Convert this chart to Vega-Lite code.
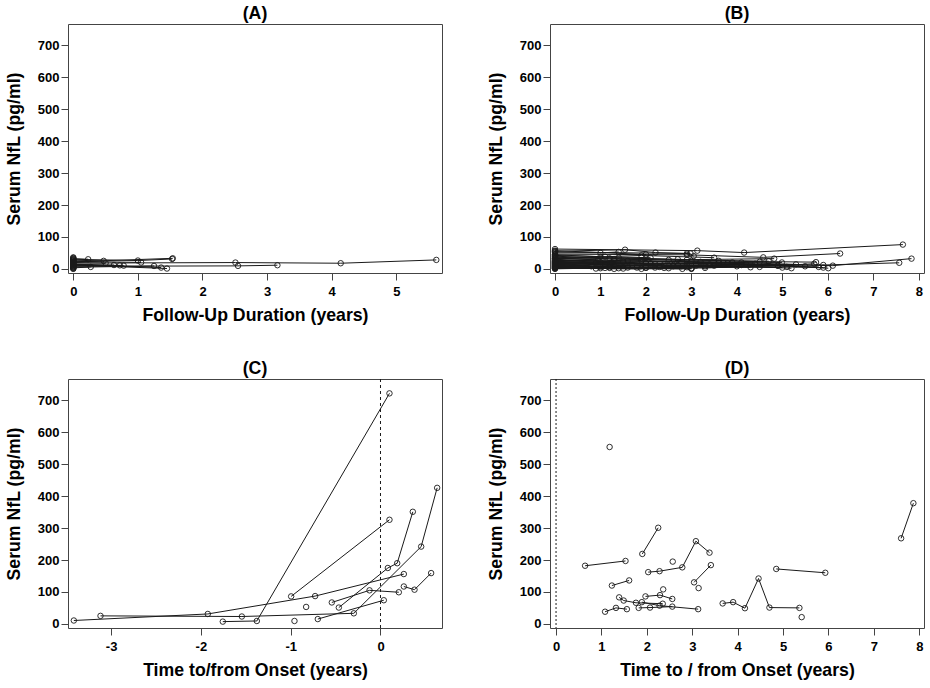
{
"$schema": "https://vega.github.io/schema/vega-lite/v6.json",
"padding": {"left": 4, "top": 4, "right": 4, "bottom": 5},
"columns": 2,
"spacing": {"column": 43, "row": 34},
"config": {
 "font": "Liberation Sans",
 "view": {"stroke": "#444", "strokeWidth": 1},
 "axis": {"grid": false, "domain": false, "tickColor": "#444", "tickSize": 7, "labelFont": "Liberation Sans", "labelFontWeight": "bold", "labelFontSize": 13, "labelColor": "#000", "labelOverlap": false, "labelExpr": "toString(datum.value)", "titleFont": "Liberation Sans", "titleFontWeight": "bold", "titleFontSize": 17.7, "titleColor": "#000"},
 "axisX": {"labelPadding": 5, "titlePadding": 8},
 "axisY": {"labelPadding": 2, "titlePadding": 14},
 "title": {"fontSize": 17.7, "fontWeight": "bold", "offset": 1, "color": "#000", "anchor": "middle", "font": "Liberation Sans"}
},
"datasets": {
 "A": [
  {"id":"a1","x":0,"y":22},{"id":"a1","x":1.54,"y":33},
  {"id":"a2","x":0,"y":30},{"id":"a2","x":1.0,"y":26},{"id":"a2","x":1.53,"y":31},
  {"id":"a3","x":0,"y":18},{"id":"a3","x":2.51,"y":19.7},{"id":"a3","x":4.14,"y":17.6},{"id":"a3","x":5.62,"y":28},
  {"id":"a4","x":0,"y":8},{"id":"a4","x":2.55,"y":9.3},{"id":"a4","x":3.16,"y":11.4},
  {"id":"a5","x":0,"y":12},{"id":"a5","x":1.45,"y":1},
  {"id":"a6","x":0,"y":15},{"id":"a6","x":1.36,"y":4},
  {"id":"a7","x":0,"y":5},{"id":"a7","x":1.25,"y":9},
  {"id":"a8","x":0,"y":24},{"id":"a8","x":1.05,"y":20},
  {"id":"a9","x":0,"y":14},{"id":"a9","x":0.78,"y":10},
  {"id":"a10","x":0,"y":11},{"id":"a10","x":0.63,"y":12},
  {"id":"a11","x":0,"y":27},{"id":"a11","x":0.47,"y":25},
  {"id":"a12","x":0,"y":32},{"id":"a12","x":0.23,"y":30},
  {"id":"a13","x":0,"y":3},{"id":"a13","x":0.27,"y":6},
  {"id":"a14","x":0,"y":20},{"id":"a14","x":0.5,"y":18},
  {"id":"a15","x":0,"y":9},{"id":"a15","x":0.72,"y":11},
  {"id":"a16","x":0,"y":0},{"id":"a17","x":0,"y":1},{"id":"a18","x":0,"y":4},{"id":"a19","x":0,"y":7},
  {"id":"a20","x":0,"y":13},{"id":"a21","x":0,"y":17},{"id":"a22","x":0,"y":21},{"id":"a23","x":0,"y":26},
  {"id":"a24","x":0,"y":29},{"id":"a25","x":0,"y":34},{"id":"a26","x":0,"y":36}
 ],
 "B": [
  {"id":"b1","x":0,"y":62},{"id":"b1","x":3.13,"y":57},{"id":"b1","x":4.16,"y":51},{"id":"b1","x":7.65,"y":76},
  {"id":"b2","x":0,"y":55},{"id":"b2","x":1.54,"y":60},{"id":"b2","x":2.21,"y":51},{"id":"b2","x":2.98,"y":48},
  {"id":"b3","x":0,"y":50},{"id":"b3","x":1.0,"y":50},{"id":"b3","x":1.4,"y":53},
  {"id":"b4","x":0,"y":46},{"id":"b4","x":2.9,"y":44},{"id":"b4","x":4.58,"y":36},{"id":"b4","x":6.27,"y":48},
  {"id":"b5","x":0,"y":42},{"id":"b5","x":1.1,"y":38},{"id":"b5","x":1.9,"y":42},{"id":"b5","x":3.5,"y":35},
  {"id":"b6","x":0,"y":40},{"id":"b6","x":1.3,"y":30},{"id":"b6","x":2.5,"y":28},{"id":"b6","x":4.82,"y":32},
  {"id":"b7","x":0,"y":36},{"id":"b7","x":1.2,"y":33},{"id":"b7","x":3.0,"y":25},{"id":"b7","x":5.74,"y":21},
  {"id":"b8","x":0,"y":33},{"id":"b8","x":1.6,"y":25},{"id":"b8","x":3.2,"y":22},{"id":"b8","x":6.01,"y":2},
  {"id":"b9","x":0,"y":30},{"id":"b9","x":2.0,"y":18},{"id":"b9","x":4.2,"y":15},{"id":"b9","x":6.11,"y":10},{"id":"b9","x":7.84,"y":32},
  {"id":"b10","x":0,"y":28},{"id":"b10","x":1.0,"y":20},{"id":"b10","x":3.4,"y":14},{"id":"b10","x":5.9,"y":12},{"id":"b10","x":7.57,"y":19},
  {"id":"b11","x":0,"y":26},{"id":"b11","x":1.5,"y":22},{"id":"b11","x":4.99,"y":20},
  {"id":"b12","x":0,"y":24},{"id":"b12","x":0.9,"y":18},{"id":"b12","x":2.2,"y":15},
  {"id":"b13","x":0,"y":22},{"id":"b13","x":1.3,"y":10},{"id":"b13","x":2.7,"y":12},{"id":"b13","x":4.3,"y":5},
  {"id":"b14","x":0,"y":20},{"id":"b14","x":2.1,"y":16},{"id":"b14","x":3.8,"y":18},{"id":"b14","x":5.5,"y":8},
  {"id":"b15","x":0,"y":18},{"id":"b15","x":1.2,"y":5},{"id":"b15","x":2.4,"y":3},
  {"id":"b16","x":0,"y":17},{"id":"b16","x":1.7,"y":12},{"id":"b16","x":3.1,"y":10},{"id":"b16","x":4.4,"y":16},
  {"id":"b17","x":0,"y":15},{"id":"b17","x":0.8,"y":8},{"id":"b17","x":2.0,"y":3},
  {"id":"b18","x":0,"y":14},{"id":"b18","x":1.4,"y":2},{"id":"b18","x":3.0,"y":2},
  {"id":"b19","x":0,"y":12},{"id":"b19","x":1.1,"y":14},{"id":"b19","x":2.6,"y":8},{"id":"b19","x":5.0,"y":4},
  {"id":"b20","x":0,"y":11},{"id":"b20","x":1.8,"y":4},{"id":"b20","x":2.8,"y":0},
  {"id":"b21","x":0,"y":10},{"id":"b21","x":1.0,"y":2},{"id":"b21","x":1.9,"y":0},
  {"id":"b22","x":0,"y":9},{"id":"b22","x":2.3,"y":6},{"id":"b22","x":4.1,"y":12},{"id":"b22","x":5.8,"y":6},
  {"id":"b23","x":0,"y":8},{"id":"b23","x":1.3,"y":0},{"id":"b23","x":3.0,"y":1},
  {"id":"b24","x":0,"y":7},{"id":"b24","x":1.6,"y":4},{"id":"b24","x":3.5,"y":10},
  {"id":"b25","x":0,"y":6},{"id":"b25","x":0.9,"y":1},{"id":"b25","x":2.0,"y":4},
  {"id":"b26","x":0,"y":5},{"id":"b26","x":2.5,"y":2},{"id":"b26","x":4.5,"y":6},{"id":"b26","x":5.2,"y":2},
  {"id":"b27","x":0,"y":4},{"id":"b27","x":1.2,"y":3},{"id":"b27","x":2.9,"y":5},
  {"id":"b28","x":0,"y":3},{"id":"b28","x":1.0,"y":6},{"id":"b28","x":3.3,"y":3},{"id":"b28","x":4.9,"y":10},
  {"id":"b29","x":0,"y":2},{"id":"b29","x":1.5,"y":1},{"id":"b29","x":3.0,"y":0},
  {"id":"b30","x":0,"y":1},{"id":"b30","x":2.2,"y":4},{"id":"b30","x":4.0,"y":8},
  {"id":"b31","x":0,"y":0},{"id":"b31","x":1.1,"y":3},
  {"id":"b32","x":0,"y":44},{"id":"b32","x":1.0,"y":38},{"id":"b32","x":2.1,"y":35},
  {"id":"b33","x":0,"y":38},{"id":"b33","x":2.7,"y":30},{"id":"b33","x":3.6,"y":25},
  {"id":"b34","x":0,"y":32},{"id":"b34","x":1.4,"y":35},{"id":"b34","x":2.9,"y":28},{"id":"b34","x":4.7,"y":24},
  {"id":"b35","x":0,"y":27},{"id":"b35","x":3.9,"y":20},{"id":"b35","x":5.3,"y":14},
  {"id":"b36","x":0,"y":23},{"id":"b36","x":1.9,"y":26},{"id":"b36","x":3.6,"y":18},{"id":"b36","x":4.1,"y":20},
  {"id":"b37","x":0,"y":19},{"id":"b37","x":2.6,"y":12},{"id":"b37","x":4.9,"y":10},{"id":"b37","x":5.7,"y":16},
  {"id":"b38","x":0,"y":13},{"id":"b38","x":3.3,"y":8},{"id":"b38","x":5.1,"y":6},{"id":"b38","x":5.9,"y":4},
  {"id":"b39","x":0,"y":16},{"id":"b39","x":1.25,"y":20},{"id":"b39","x":2.4,"y":14},
  {"id":"b40","x":0,"y":21},{"id":"b40","x":2.9,"y":15},{"id":"b40","x":4.5,"y":22},
  {"id":"b41","x":0,"y":34},{"id":"b41","x":0.95,"y":28},
  {"id":"b42","x":0,"y":57},{"id":"b42","x":2.0,"y":45},
  {"id":"b43","x":0,"y":53},{"id":"b43","x":2.9,"y":48},{"id":"b43","x":3.05,"y":40}
 ],
 "C": [
  {"id":"c1","x":-3.415,"y":10.5},{"id":"c1","x":-1.923,"y":31},{"id":"c1","x":-0.728,"y":87},{"id":"c1","x":0.26,"y":156},
  {"id":"c2","x":-3.118,"y":25},{"id":"c2","x":-1.544,"y":23},{"id":"c2","x":-0.297,"y":33},{"id":"c2","x":0.453,"y":242},{"id":"c2","x":0.631,"y":426},
  {"id":"c3","x":-1.756,"y":7},{"id":"c3","x":-1.377,"y":9},{"id":"c3","x":0.1,"y":722},
  {"id":"c4","x":-0.995,"y":86},{"id":"c4","x":0.1,"y":326},
  {"id":"c5","x":-0.958,"y":9},
  {"id":"c6","x":-0.828,"y":53},
  {"id":"c7","x":-0.698,"y":15},{"id":"c7","x":0.037,"y":74},
  {"id":"c8","x":-0.542,"y":67},{"id":"c8","x":-0.122,"y":105},{"id":"c8","x":0.204,"y":99},
  {"id":"c9","x":-0.464,"y":51},{"id":"c9","x":0.082,"y":175},{"id":"c9","x":0.186,"y":190},{"id":"c9","x":0.36,"y":351},
  {"id":"c10","x":0.26,"y":117},{"id":"c10","x":0.379,"y":107},{"id":"c10","x":0.564,"y":159}
 ],
 "D": [
  {"id":"d1","x":0.64,"y":182},{"id":"d1","x":1.53,"y":197},
  {"id":"d2","x":1.18,"y":554},
  {"id":"d3","x":1.23,"y":120},{"id":"d3","x":1.61,"y":136},
  {"id":"d4","x":1.08,"y":38},{"id":"d4","x":1.32,"y":50},{"id":"d4","x":1.56,"y":46},
  {"id":"d5","x":1.39,"y":83},{"id":"d5","x":1.49,"y":73},{"id":"d5","x":1.76,"y":66},{"id":"d5","x":2.35,"y":63},
  {"id":"d6","x":1.82,"y":50},{"id":"d6","x":2.07,"y":51},{"id":"d6","x":2.56,"y":54},
  {"id":"d7","x":1.89,"y":68},{"id":"d7","x":2.28,"y":57},{"id":"d7","x":3.13,"y":46},
  {"id":"d8","x":1.97,"y":86},{"id":"d8","x":2.29,"y":90},{"id":"d8","x":2.56,"y":78},
  {"id":"d9","x":2.36,"y":108},
  {"id":"d10","x":1.9,"y":219},{"id":"d10","x":2.25,"y":301},
  {"id":"d11","x":2.03,"y":162},{"id":"d11","x":2.28,"y":165},{"id":"d11","x":2.78,"y":177},{"id":"d11","x":3.08,"y":259},{"id":"d11","x":3.38,"y":223},
  {"id":"d12","x":2.57,"y":195},
  {"id":"d13","x":3.04,"y":130},{"id":"d13","x":3.41,"y":184},
  {"id":"d14","x":3.14,"y":112},
  {"id":"d15","x":3.67,"y":64},{"id":"d15","x":3.9,"y":68},{"id":"d15","x":4.16,"y":49},{"id":"d15","x":4.46,"y":142},{"id":"d15","x":4.7,"y":51},{"id":"d15","x":5.36,"y":50},
  {"id":"d16","x":5.41,"y":21},
  {"id":"d17","x":4.85,"y":172},{"id":"d17","x":5.93,"y":160},
  {"id":"d18","x":7.6,"y":268},{"id":"d18","x":7.87,"y":378}
 ]
},
"concat": [
 {
  "width": 374, "height": 249, "title": "(A)", "data": {"name": "A"},
  "layer": [
   {"mark": {"type": "line", "color": "#1a1a1a", "strokeWidth": 1},
    "encoding": {
     "x": {"field": "x", "type": "quantitative", "scale": {"domain": [-0.082, 5.708], "nice": false, "zero": false}, "axis": {"values": [0,1,2,3,4,5], "title": "Follow-Up Duration (years)"}},
     "y": {"field": "y", "type": "quantitative", "scale": {"domain": [-13, 767], "nice": false, "zero": false}, "axis": {"values": [0,100,200,300,400,500,600,700], "title": "Serum NfL (pg/ml)"}},
     "detail": {"field": "id"}}},
   {"mark": {"type": "point", "shape": "circle", "filled": false, "color": "#1a1a1a", "size": 30, "strokeWidth": 0.9, "opacity": 1},
    "encoding": {
     "x": {"field": "x", "type": "quantitative", "axis": {"values": [0,1,2,3,4,5], "title": "Follow-Up Duration (years)"}},
     "y": {"field": "y", "type": "quantitative", "axis": {"values": [0,100,200,300,400,500,600,700], "title": "Serum NfL (pg/ml)"}}}}
  ]
 },
 {
  "width": 374, "height": 249, "title": "(B)", "data": {"name": "B"},
  "layer": [
   {"mark": {"type": "line", "color": "#1a1a1a", "strokeWidth": 1},
    "encoding": {
     "x": {"field": "x", "type": "quantitative", "scale": {"domain": [-0.11, 8.115], "nice": false, "zero": false}, "axis": {"values": [0,1,2,3,4,5,6,7,8], "title": "Follow-Up Duration (years)"}},
     "y": {"field": "y", "type": "quantitative", "scale": {"domain": [-13, 767], "nice": false, "zero": false}, "axis": {"values": [0,100,200,300,400,500,600,700], "title": "Serum NfL (pg/ml)"}},
     "detail": {"field": "id"}}},
   {"mark": {"type": "point", "shape": "circle", "filled": false, "color": "#1a1a1a", "size": 30, "strokeWidth": 0.9, "opacity": 1},
    "encoding": {
     "x": {"field": "x", "type": "quantitative", "axis": {"values": [0,1,2,3,4,5,6,7,8], "title": "Follow-Up Duration (years)"}},
     "y": {"field": "y", "type": "quantitative", "axis": {"values": [0,100,200,300,400,500,600,700], "title": "Serum NfL (pg/ml)"}}}}
  ]
 },
 {
  "width": 374, "height": 249, "title": "(C)", "data": {"name": "C"},
  "layer": [
   {"mark": {"type": "line", "color": "#1a1a1a", "strokeWidth": 1},
    "encoding": {
     "x": {"field": "x", "type": "quantitative", "scale": {"domain": [-3.48, 0.685], "nice": false, "zero": false}, "axis": {"values": [-3,-2,-1,0], "title": "Time to/from Onset (years)"}},
     "y": {"field": "y", "type": "quantitative", "scale": {"domain": [-13, 767], "nice": false, "zero": false}, "axis": {"values": [0,100,200,300,400,500,600,700], "title": "Serum NfL (pg/ml)"}},
     "detail": {"field": "id"}}},
   {"mark": {"type": "point", "shape": "circle", "filled": false, "color": "#1a1a1a", "size": 30, "strokeWidth": 0.9, "opacity": 1},
    "encoding": {
     "x": {"field": "x", "type": "quantitative", "axis": {"values": [-3,-2,-1,0], "title": "Time to/from Onset (years)"}},
     "y": {"field": "y", "type": "quantitative", "axis": {"values": [0,100,200,300,400,500,600,700], "title": "Serum NfL (pg/ml)"}}}},
   {"data": {"values": [{"x": 0}]},
    "mark": {"type": "rule", "color": "#1a1a1a", "strokeWidth": 1, "strokeDash": [3, 3]},
    "encoding": {"x": {"field": "x", "type": "quantitative", "axis": {"values": [-3,-2,-1,0], "title": "Time to/from Onset (years)"}}}}
  ]
 },
 {
  "width": 374, "height": 249, "title": "(D)", "data": {"name": "D"},
  "layer": [
   {"mark": {"type": "line", "color": "#1a1a1a", "strokeWidth": 1},
    "encoding": {
     "x": {"field": "x", "type": "quantitative", "scale": {"domain": [-0.133, 8.104], "nice": false, "zero": false}, "axis": {"values": [0,1,2,3,4,5,6,7,8], "title": "Time to / from Onset (years)"}},
     "y": {"field": "y", "type": "quantitative", "scale": {"domain": [-13, 767], "nice": false, "zero": false}, "axis": {"values": [0,100,200,300,400,500,600,700], "title": "Serum NfL (pg/ml)"}},
     "detail": {"field": "id"}}},
   {"mark": {"type": "point", "shape": "circle", "filled": false, "color": "#1a1a1a", "size": 30, "strokeWidth": 0.9, "opacity": 1},
    "encoding": {
     "x": {"field": "x", "type": "quantitative", "axis": {"values": [0,1,2,3,4,5,6,7,8], "title": "Time to / from Onset (years)"}},
     "y": {"field": "y", "type": "quantitative", "axis": {"values": [0,100,200,300,400,500,600,700], "title": "Serum NfL (pg/ml)"}}}},
   {"data": {"values": [{"x": 0}]},
    "mark": {"type": "rule", "color": "#1a1a1a", "strokeWidth": 1, "strokeDash": [2, 2]},
    "encoding": {"x": {"field": "x", "type": "quantitative", "axis": {"values": [0,1,2,3,4,5,6,7,8], "title": "Time to / from Onset (years)"}}}}
  ]
 }
]
}
